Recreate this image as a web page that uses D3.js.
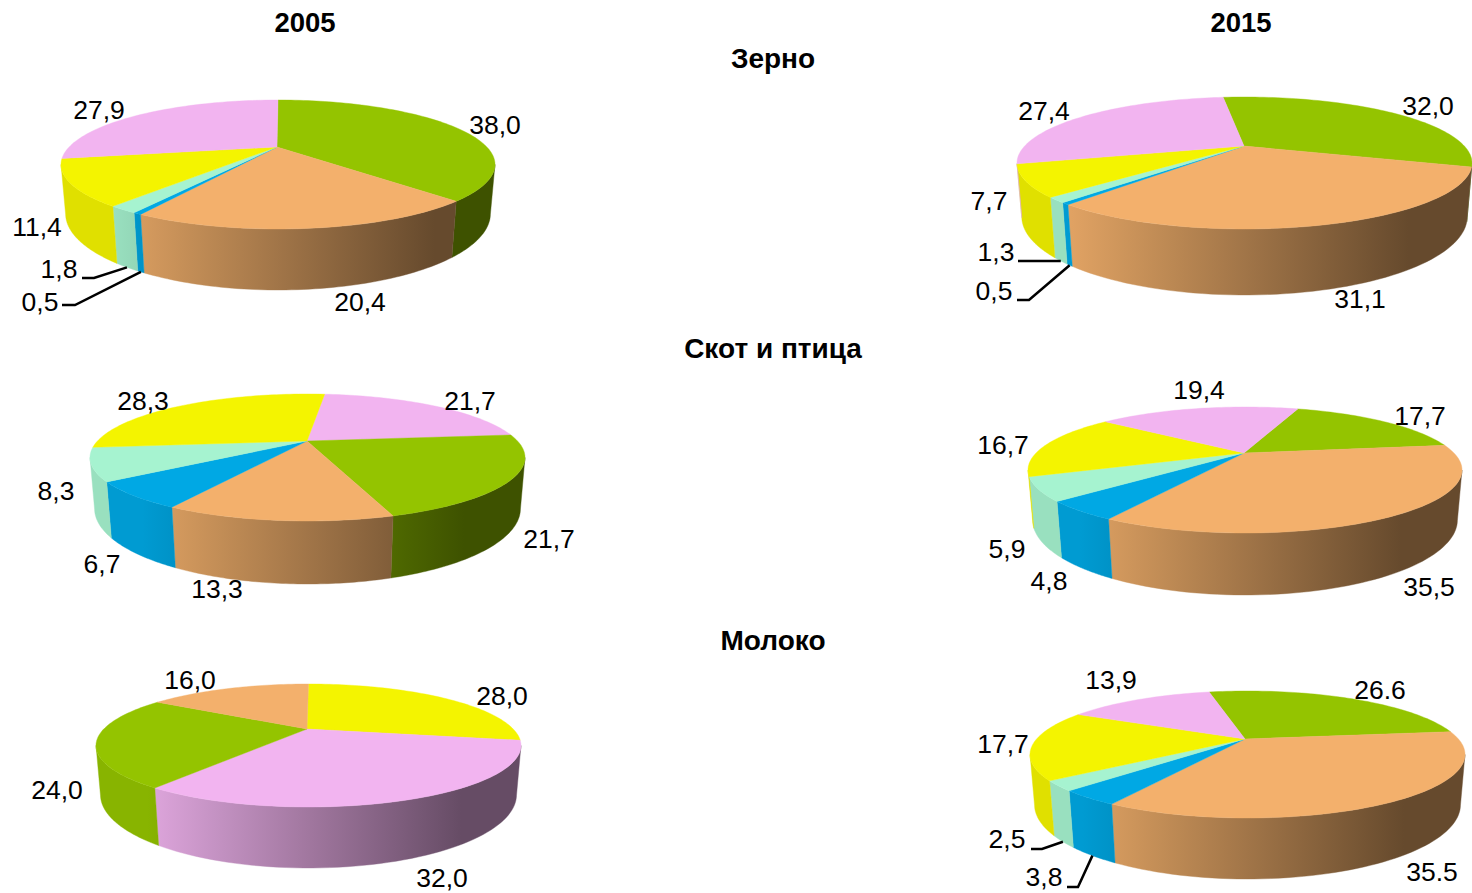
<!DOCTYPE html>
<html>
<head>
<meta charset="utf-8">
<script src="https://cdn.jsdelivr.net/npm/d3@7"></script>
<style>
html,body{margin:0;padding:0;background:#fff;overflow:hidden}
text{font-family:"Liberation Sans",Arial,sans-serif;fill:#000}
</style>
</head>
<body>
<svg id="chart" width="1472" height="893"></svg>
<script>
// ---- data ----
const yearTitles = ["2005", "2015"];
const sectionTitles = ["Зерно", "Скот и птица", "Молоко"];

const grain2005Values = [38.0, 20.4, 0.5, 1.8, 11.4, 27.9];
const grain2005Labels = ["38,0", "20,4", "0,5", "1,8", "11,4", "27,9"];
const grain2005Cats   = ["green", "orange", "blue", "mint", "yellow", "pink"];

const grain2015Values = [32.0, 31.1, 0.5, 1.3, 7.7, 27.4];
const grain2015Labels = ["32,0", "31,1", "0,5", "1,3", "7,7", "27,4"];
const grain2015Cats   = ["green", "orange", "blue", "mint", "yellow", "pink"];

const stock2005Values = [21.7, 21.7, 13.3, 6.7, 8.3, 28.3];
const stock2005Labels = ["21,7", "21,7", "13,3", "6,7", "8,3", "28,3"];
const stock2005Cats   = ["pink", "green", "orange", "blue", "mint", "yellow"];

const stock2015Values = [17.7, 35.5, 4.8, 5.9, 16.7, 19.4];
const stock2015Labels = ["17,7", "35,5", "4,8", "5,9", "16,7", "19,4"];
const stock2015Cats   = ["green", "orange", "blue", "mint", "yellow", "pink"];

const milk2005Values = [28.0, 32.0, 24.0, 16.0];
const milk2005Labels = ["28,0", "32,0", "24,0", "16,0"];
const milk2005Cats   = ["yellow", "pink", "green", "orange"];

const milk2015Values = [26.6, 35.5, 3.8, 2.5, 17.7, 13.9];
const milk2015Labels = ["26.6", "35.5", "3,8", "2,5", "17,7", "13,9"];
const milk2015Cats   = ["green", "orange", "blue", "mint", "yellow", "pink"];

// ---- styles ----
const catColors = {green:"#94c400", orange:"#f3b06c", blue:"#00a8e4", mint:"#a6f3d0", yellow:"#f4f400", pink:"#f2b4f0"};
const shadeDomain = [-0.76, 0.72];
const shadeRange  = [0.92, 0.42];

// ---- layout: apex, ellipse extent, base, rotation ----
const pies = [
 {id:"g05", values:grain2005Values, labels:grain2005Labels, cats:grain2005Cats, ax:277, ay:147, left:61, right:495, top:100, rim:229, base:290, rot:0,
  labelPos:[[495,125],[360,302],[40,302],[59,269],[37,227],[99,110]], leaders:{2:[[62,305],[75,305]],3:[[82,278],[94,278]]}},
 {id:"g15", values:grain2015Values, labels:grain2015Labels, cats:grain2015Cats, ax:1244, ay:146, left:1017, right:1472, top:97, rim:229, base:295, rot:-7,
  labelPos:[[1428,106],[1360,299],[994,291],[996,252],[989,201],[1044,111]], leaders:{2:[[1017,300],[1029,300]],3:[[1018,261]]}},
 {id:"s05", values:stock2005Values, labels:stock2005Labels, cats:stock2005Cats, ax:307, ay:441, left:90, right:525, top:394, rim:521, base:584, rot:5.9,
  labelPos:[[470,401],[549,539],[217,589],[102,564],[56,491],[143,401]], leaders:{}},
 {id:"s15", values:stock2015Values, labels:stock2015Labels, cats:stock2015Cats, ax:1244, ay:453, left:1028, right:1462, top:407, rim:533, base:595, rot:18.5,
  labelPos:[[1420,416],[1429,587],[1049,581],[1007,549],[1003,445],[1199,390]], leaders:{}},
 {id:"m05", values:milk2005Values, labels:milk2005Labels, cats:milk2005Cats, ax:307, ay:729, left:96, right:521, top:684, rim:807, base:868, rot:0,
  labelPos:[[502,696],[442,878],[57,790],[190,680]], leaders:{}},
 {id:"m15", values:milk2015Values, labels:milk2015Labels, cats:milk2015Cats, ax:1245, ay:739, left:1030, right:1465, top:691, rim:818, base:879, rot:-13,
  labelPos:[[1380,690],[1432,872],[1044,877],[1007,839],[1003,744],[1111,680]], leaders:{2:[[1067,887],[1078,887]],3:[[1031,849],[1042,849]]}}
];
const yearPos = [305, 1241], yearY = 22;
const sectionX = 773, sectionY = [58, 348.5, 640];
const baseShrink = 0.02;

const svg = d3.select("#chart");
const defs = svg.append("defs");
const shade = d3.scaleLinear().domain(shadeDomain).range(shadeRange).clamp(true);

function drawPie(p){
  const upper = p.ay - p.top, lower = p.rim - p.ay;
  const k = (lower - upper) / (lower + upper);
  const S = upper * (1 + k);
  const halfW = (p.right - p.left) / 2;
  const ex = (p.left + p.right) / 2;
  const R = halfW * Math.sqrt(1 - k * k);
  const D = (p.base - p.ay) * (1 - k + baseShrink) - S;
  const rad = Math.PI / 180;

  const topPt = t => {
    const u = Math.sin(t), v = -Math.cos(t), w = 1 - k * v;
    return [ex + R * u / w, p.ay + S * v / w];
  };
  const botPt = t => {
    const u = Math.sin(t), v = -Math.cos(t), w = 1 - k * v + baseShrink;
    return [ex + R * u / w, p.ay + (S * v + D) / w];
  };

  const layout = d3.pie().sort(null)
    .startAngle(p.rot * rad).endAngle(p.rot * rad + 2 * Math.PI)(p.values);

  const g = svg.append("g").attr("class", "pie " + p.id);
  const line = d3.line();

  // wall gradients: one per category, in screen space
  const xNorm = d3.scaleLinear().domain([-1, 1]).range([ex - halfW, ex + halfW]);
  const stopU = [-1, shadeDomain[0], -0.4, 0, 0.4, shadeDomain[1], 1];
  [...new Set(p.cats)].forEach(c => {
    const lg = defs.append("linearGradient").attr("id", p.id + c)
      .attr("gradientUnits", "userSpaceOnUse")
      .attr("x1", xNorm(-1)).attr("x2", xNorm(1)).attr("y1", 0).attr("y2", 0);
    const base = d3.rgb(catColors[c]);
    stopU.forEach(u => {
      const f = shade(u);
      lg.append("stop").attr("offset", (u + 1) / 2)
        .attr("stop-color", d3.rgb(base.r * f, base.g * f, base.b * f).formatHex());
    });
  });

  // walls: only the portion of the rim facing the viewer
  const silh = Math.acos(-k), tMin = silh, tMax = 2 * Math.PI - silh;
  layout.forEach((s, i) => {
    [0, 2 * Math.PI, -2 * Math.PI].forEach(off => {
      const a0 = Math.max(s.startAngle + off, tMin), a1 = Math.min(s.endAngle + off, tMax);
      if (a1 <= a0) return;
      const ts = d3.range(0, 61).map(j => a0 + (a1 - a0) * j / 60);
      const poly = ts.map(topPt).concat(ts.slice().reverse().map(botPt));
      g.append("path").attr("d", line(poly) + "Z")
        .attr("fill", `url(#${p.id}${p.cats[i]})`)
        .attr("stroke", `url(#${p.id}${p.cats[i]})`).attr("stroke-width", 0.4);
    });
  });

  // top face
  layout.forEach((s, i) => {
    const n = Math.max(6, Math.ceil((s.endAngle - s.startAngle) / (1.5 * rad)));
    const ts = d3.range(0, n + 1).map(j => s.startAngle + (s.endAngle - s.startAngle) * j / n);
    const poly = [[p.ax, p.ay]].concat(ts.map(topPt));
    g.append("path").attr("d", line(poly) + "Z")
      .attr("fill", catColors[p.cats[i]])
      .attr("stroke", catColors[p.cats[i]]).attr("stroke-width", 0.4);
  });

  // leader lines
  Object.keys(p.leaders).forEach(key => {
    const s = layout[+key], mid = (s.startAngle + s.endAngle) / 2;
    const pts = p.leaders[key].concat([botPt(mid)]);
    g.append("path").attr("d", line(pts)).attr("fill", "none")
      .attr("stroke", "#000").attr("stroke-width", 2.5);
  });

  // labels
  p.labels.forEach((t, i) => {
    g.append("text").attr("x", p.labelPos[i][0]).attr("y", p.labelPos[i][1])
      .attr("dy", "0.35em").attr("text-anchor", "middle")
      .attr("font-size", 26.5).text(t);
  });
}

pies.forEach(drawPie);

yearTitles.forEach((t, i) => {
  svg.append("text").attr("x", yearPos[i]).attr("y", yearY).attr("dy", "0.35em")
    .attr("text-anchor", "middle").attr("font-size", 27.5).attr("font-weight", "bold").text(t);
});
sectionTitles.forEach((t, i) => {
  svg.append("text").attr("x", sectionX).attr("y", sectionY[i]).attr("dy", "0.35em")
    .attr("text-anchor", "middle").attr("font-size", 28).attr("font-weight", "bold").text(t);
});
</script>
</body>
</html>
